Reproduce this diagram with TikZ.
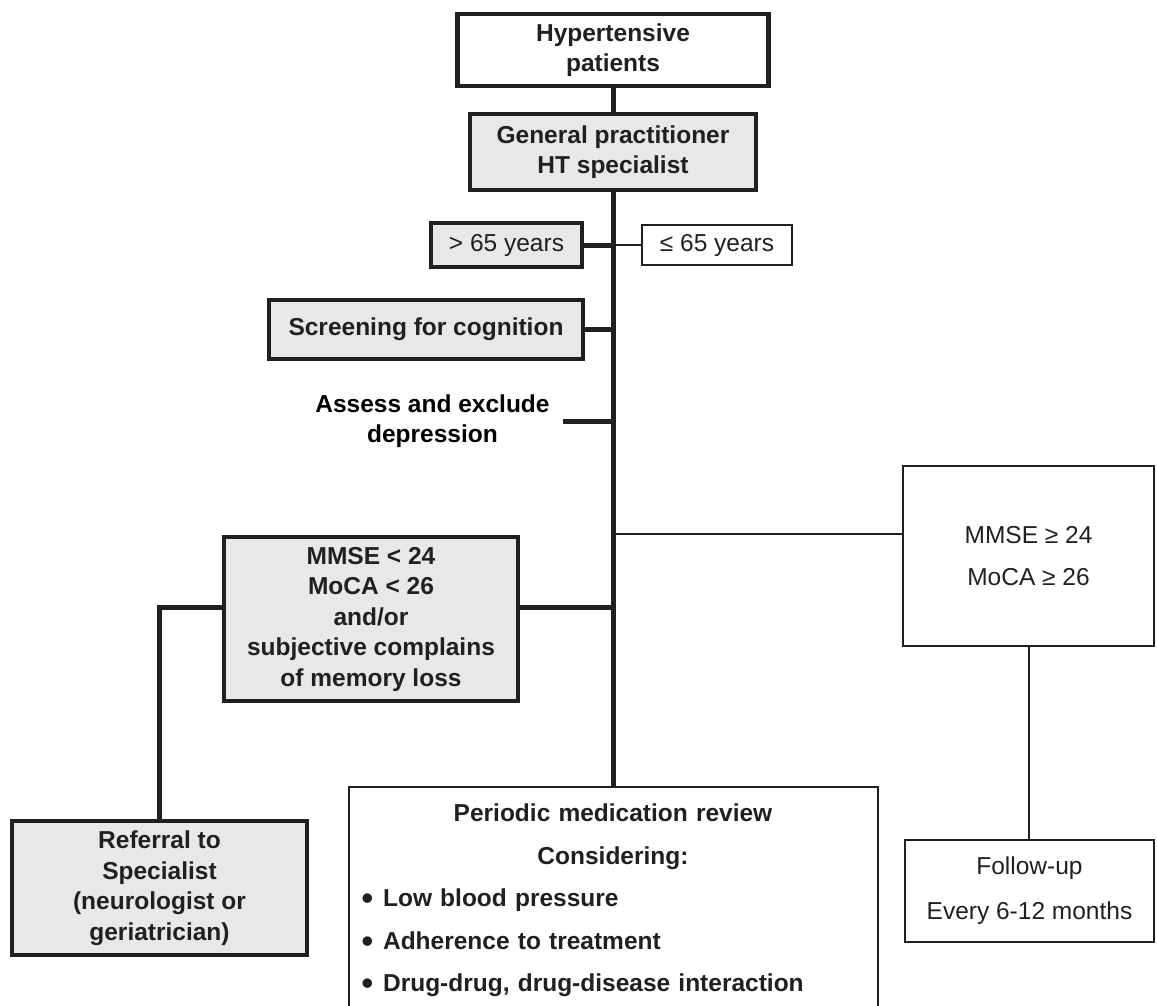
\documentclass[tikz,border=0pt]{standalone}
\usepackage{fontspec}
\usepackage{graphicx}
\setmainfont{Liberation Sans}
\usetikzlibrary{positioning}
\definecolor{boxgray}{RGB}{232,232,234}
\definecolor{ink}{RGB}{35,31,32}
\newcommand{\bigbullet}{\raisebox{-3pt}{\scalebox{1.35}{\textbullet}}\hspace{10pt}}
\tikzset{
    common/.style={draw=ink, rectangle, align=center, inner sep=0pt, text=ink},
    thickbox/.style={common, line width=4.5pt},
    thinbox/.style={common, line width=2pt},
    grey/.style={fill=boxgray},
    boldtext/.style={font=\fontsize{24.5}{30.5}\selectfont\bfseries},
    plaintext/.style={font=\fontsize{24.5}{42}\selectfont},
    spine/.style={draw=ink, line width=5pt},
    branch/.style={draw=ink, line width=2pt}
}

\begin{document}
\begin{tikzpicture}[x=1pt, y=-1pt]
    \useasboundingbox (0,0) rectangle (1157,1006);

    % main column
    \node[thickbox, boldtext, minimum width=311pt, minimum height=72pt] (patients) at (613,50) {Hypertensive\\patients};
    \node[thickbox, grey, boldtext, minimum width=286pt, minimum height=76pt] (gp) at (613,152) {General practitioner\\HT specialist};
    \node[thickbox, grey, plaintext, minimum width=151pt, minimum height=44pt] (old) at (506.5,245) {> 65 years};
    \node[thinbox, plaintext, minimum width=150pt, minimum height=40pt] (young) at (717,245) {≤ 65 years};
    \node[thickbox, grey, boldtext, minimum width=314pt, minimum height=59pt] (screen) at (426,329.5) {Screening for cognition};
    \node[boldtext, align=center, inner xsep=13pt] (depress) at (432.5,421) {Assess and exclude\\depression};
    \node[thickbox, grey, boldtext, minimum width=294pt, minimum height=164pt] (low) at (371,619) {MMSE < 24\\MoCA < 26\\and/or\\subjective complains\\of memory loss};
    \node[thickbox, grey, boldtext, minimum width=295pt, minimum height=134pt] (referral) at (159.5,888) {Referral to\\Specialist\\(neurologist or\\geriatrician)};
    \node[thinbox, anchor=north, minimum width=529pt, minimum height=227pt, text width=503pt, inner xsep=13pt, align=left,
          font=\fontsize{24.5}{42.5}\selectfont\bfseries] (review) at (613,786) {%
        {\centering Periodic medication review\\Considering:\par}
        \bigbullet Low blood pressure\\
        \bigbullet Adherence to treatment\\
        \bigbullet Drug-drug, drug-disease interaction};

    % right column
    \node[thinbox, plaintext, minimum width=251pt, minimum height=180pt] (high) at (1028.5,556) {MMSE ≥ 24\\MoCA ≥ 26};
    \node[thinbox, font=\fontsize{24.5}{45}\selectfont, minimum width=249pt, minimum height=102pt] (follow) at (1029.5,891) {Follow-up\\Every 6-12 months};

    % connectors
    \draw[spine] (patients.south) -- (gp.north);
    \draw[spine] (gp.south) -- (gp.south |- review.north);
    \draw[spine] (old.east) -- (old.east -| gp.south);
    \draw[branch] (young.west) -- (young.west -| gp.south);
    \draw[spine] (screen.east) -- (screen.east -| gp.south);
    \draw[spine] (depress.east) -- (depress.east -| gp.south);
    \draw[branch] ([yshift=22pt]high.west) -- ([yshift=22pt]high.west -| gp.south);
    \draw[spine] ([yshift=12pt]low.east) -- ([yshift=12pt]low.east -| gp.south);
    \draw[spine] ([yshift=12pt]low.west) -| (referral.north);
    \draw[branch] (high.south) -- (high.south |- follow.north);
\end{tikzpicture}
\end{document}
